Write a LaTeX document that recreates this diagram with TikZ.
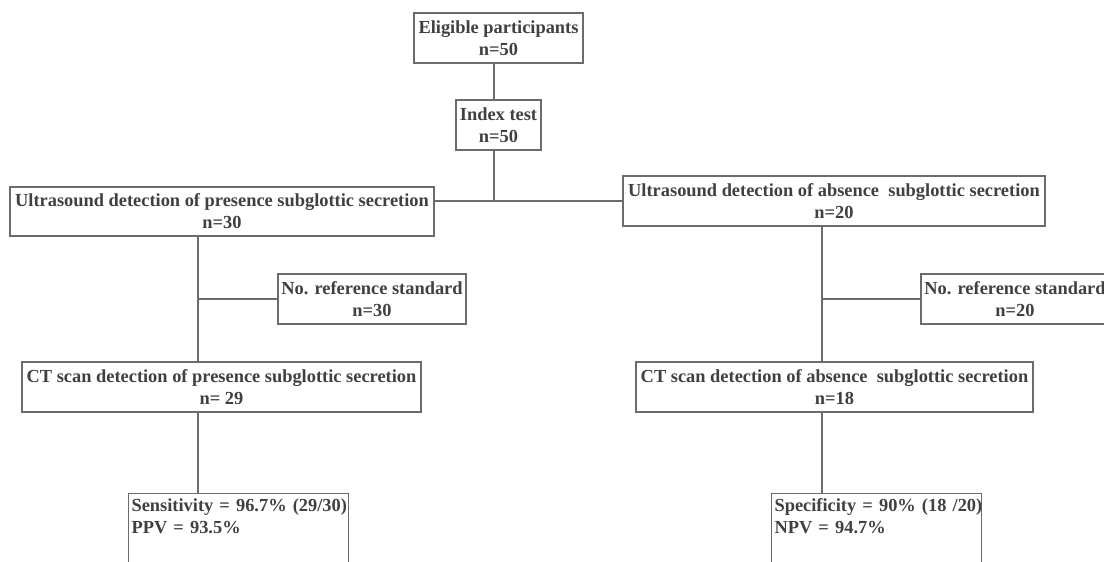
\documentclass[tikz,border=0pt]{standalone}
\usepackage{fontspec}
\setmainfont{Liberation Serif}
\usepackage{xcolor}
\definecolor{boxgray}{rgb}{0.42,0.42,0.42}
\definecolor{textgray}{rgb}{0.25,0.25,0.25}

\begin{document}
\begin{tikzpicture}[
    x = 1pt, y = -1pt,
    every node/.style = {font = \fontsize{18.4}{22}\selectfont\bfseries, text = textgray},
    box/.style = {draw = boxgray, line width = 1.1pt, inner sep = 0pt, align = center,
                  minimum height = 50pt, minimum width = #1},
    result/.style = {draw = boxgray, line width = 1.1pt, inner xsep = 3pt, inner ysep = 5pt,
                     align = left, anchor = north west, text width = #1},
    link/.style = {draw = boxgray, line width = 1.1pt}
    ]
    \useasboundingbox (0,0) rectangle (1104,562);
    \node[box = 169pt] (elig) at (498.5,38) {Eligible participants\\n=50};
    \node[box = 85pt] (index) at (498.5,125) {Index test\\n=50};
    \node[box = 424pt, minimum height = 49pt] (usl) at (222,211.5) {Ultrasound detection of presence subglottic secretion\\n=30};
    \node[box = 422pt] (usr) at (834,201) {Ultrasound detection of absence\ \ subglottic secretion\\n=20};
    \node[box = 188pt] (refl) at (372,299) {No. reference standard\\n=30};
    \node[box = 188pt] (refr) at (1015,299) {No. reference standard\\n=20};
    \node[box = 399pt] (ctl) at (221.5,387) {CT scan detection of presence subglottic secretion\\n= 29};
    \node[box = 397pt] (ctr) at (834.5,387) {CT scan detection of absence\ \ subglottic secretion\\n=18};
    \node[result = 214pt] (resl) at (128,493)
        {\mbox{Sensitivity = 96.7\% (29/30)}\\\mbox{PPV = 93.5\%}\\[60pt]\mbox{}};
    \node[result = 204pt] (resr) at (771,493)
        {\mbox{Specificity = 90\% (18 /20)}\\\mbox{NPV = 94.7\%}\\[60pt]\mbox{}};
    \coordinate (lx) at (198,0);
    \coordinate (rx) at (822,0);
    \coordinate (tx) at (494,0);
    \draw[link] (elig.south -| tx) -- (index.north -| tx);
    \draw[link] (index.south -| tx) -- (usr.west -| tx);
    \draw[link] (usl.east |- usr.west) -- (usr.west);
    \draw[link] (usl.south -| lx) -- (ctl.north -| lx);
    \draw[link] (refl.west -| lx) -- (refl.west);
    \draw[link] (ctl.south -| lx) -- (resl.north -| lx);
    \draw[link] (usr.south -| rx) -- (ctr.north -| rx);
    \draw[link] (refr.west -| rx) -- (refr.west);
    \draw[link] (ctr.south -| rx) -- (resr.north -| rx);
\end{tikzpicture}
\end{document}
